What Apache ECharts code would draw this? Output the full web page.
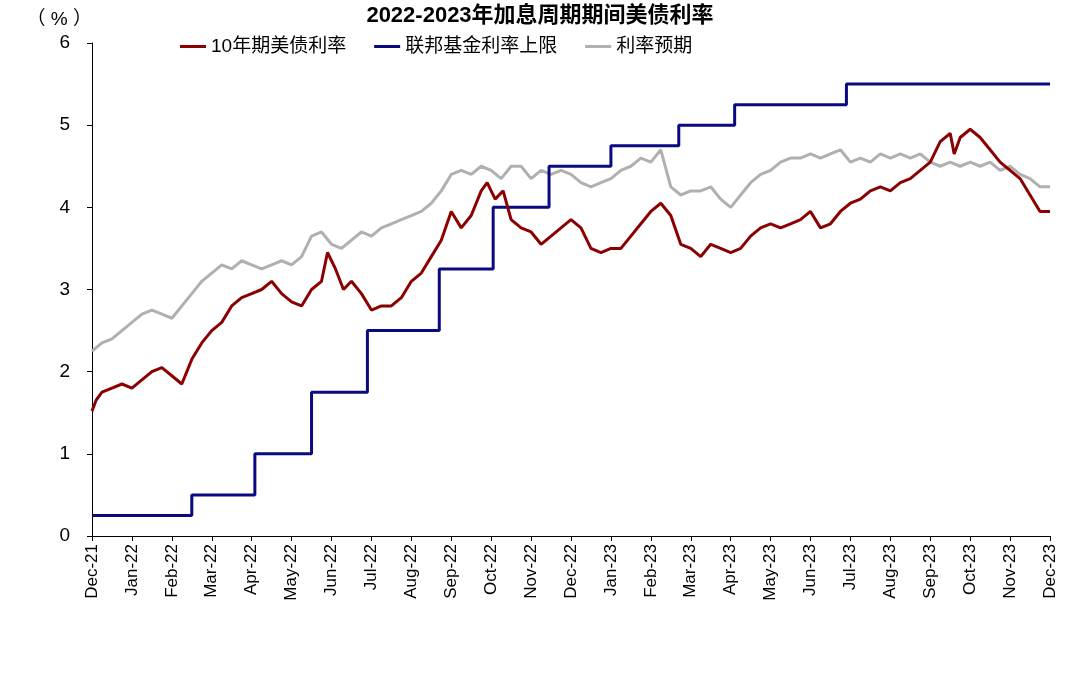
<!DOCTYPE html>
<html>
<head>
<meta charset="utf-8">
<script src="https://cdn.jsdelivr.net/npm/echarts@6/dist/echarts.min.js"></script>
</head>
<body style="margin:0">
<div id="main" style="width:1080px;height:679px;"></div>
<script>
var months = ['Dec-21','Jan-22','Feb-22','Mar-22','Apr-22','May-22','Jun-22','Jul-22','Aug-22','Sep-22','Oct-22','Nov-22','Dec-22',
  'Jan-23','Feb-23','Mar-23','Apr-23','May-23','Jun-23','Jul-23','Aug-23','Sep-23','Oct-23','Nov-23','Dec-23']

// x = months since Dec-21
var tenYear = [[0,1.52],[0.1,1.65],[0.25,1.75],[0.5,1.8],[0.75,1.85],[1,1.8],[1.25,1.9],[1.5,2.0],[1.75,2.05],[2,1.95],[2.25,1.85],
  [2.5,2.15],[2.75,2.35],[3,2.5],[3.25,2.6],[3.5,2.8],[3.75,2.9],[4,2.95],[4.25,3.0],[4.5,3.1],[4.75,2.95],[5,2.85],[5.25,2.8],
  [5.5,3.0],[5.75,3.1],[5.9,3.45],[6.1,3.25],[6.3,3.0],[6.5,3.1],[6.75,2.95],[7,2.75],[7.25,2.8],[7.5,2.8],[7.75,2.9],[8,3.1],
  [8.25,3.2],[8.5,3.4],[8.75,3.6],[9,3.95],[9.25,3.75],[9.5,3.9],[9.75,4.2],[9.9,4.3],[10.1,4.1],[10.3,4.2],[10.5,3.85],[10.75,3.75],
  [11,3.7],[11.25,3.55],[11.5,3.65],[11.75,3.75],[12,3.85],[12.25,3.75],[12.5,3.5],[12.75,3.45],[13,3.5],[13.25,3.5],[13.5,3.65],
  [13.75,3.8],[14,3.95],[14.25,4.05],[14.5,3.9],[14.75,3.55],[15,3.5],[15.25,3.4],[15.5,3.55],[15.75,3.5],[16,3.45],[16.25,3.5],
  [16.5,3.65],[16.75,3.75],[17,3.8],[17.25,3.75],[17.5,3.8],[17.75,3.85],[18,3.95],[18.25,3.75],[18.5,3.8],[18.75,3.95],[19,4.05],
  [19.25,4.1],[19.5,4.2],[19.75,4.25],[20,4.2],[20.25,4.3],[20.5,4.35],[20.75,4.45],[21,4.55],[21.25,4.8],[21.5,4.9],[21.6,4.65],
  [21.75,4.85],[22,4.95],[22.25,4.85],[22.5,4.7],[22.75,4.55],[23,4.45],[23.25,4.35],[23.5,4.15],[23.75,3.95],[24,3.95]]

var fedUpper = [[0,0.25],[2.5,0.5],[4.08,1.0],[5.5,1.75],[6.9,2.5],[8.7,3.25],[10.05,4.0],[11.45,4.5],[13.0,4.75],
  [14.7,5.0],[16.1,5.25],[18.9,5.5],[24,5.5]]

var expect = [[0,2.25],[0.25,2.35],[0.5,2.4],[0.75,2.5],[1,2.6],[1.25,2.7],[1.5,2.75],[1.75,2.7],[2,2.65],[2.25,2.8],[2.5,2.95],
  [2.75,3.1],[3,3.2],[3.25,3.3],[3.5,3.25],[3.75,3.35],[4,3.3],[4.25,3.25],[4.5,3.3],[4.75,3.35],[5,3.3],[5.25,3.4],[5.5,3.65],
  [5.75,3.7],[6,3.55],[6.25,3.5],[6.5,3.6],[6.75,3.7],[7,3.65],[7.25,3.75],[7.5,3.8],[7.75,3.85],[8,3.9],[8.25,3.95],[8.5,4.05],
  [8.75,4.2],[9,4.4],[9.25,4.45],[9.5,4.4],[9.75,4.5],[10,4.45],[10.25,4.35],[10.5,4.5],[10.75,4.5],[11,4.35],[11.25,4.45],
  [11.5,4.4],[11.75,4.45],[12,4.4],[12.25,4.3],[12.5,4.25],[12.75,4.3],[13,4.35],[13.25,4.45],[13.5,4.5],[13.75,4.6],[14,4.55],
  [14.25,4.7],[14.5,4.25],[14.75,4.15],[15,4.2],[15.25,4.2],[15.5,4.25],[15.75,4.1],[16,4.0],[16.25,4.15],[16.5,4.3],[16.75,4.4],
  [17,4.45],[17.25,4.55],[17.5,4.6],[17.75,4.6],[18,4.65],[18.25,4.6],[18.5,4.65],[18.75,4.7],[19,4.55],[19.25,4.6],[19.5,4.55],
  [19.75,4.65],[20,4.6],[20.25,4.65],[20.5,4.6],[20.75,4.65],[21,4.55],[21.25,4.5],[21.5,4.55],[21.75,4.5],[22,4.55],[22.25,4.5],
  [22.5,4.55],[22.75,4.45],[23,4.5],[23.25,4.4],[23.5,4.35],[23.75,4.25],[24,4.25]]

var myChart = echarts.init(document.querySelector('#main'))
var font = 'Liberation Sans, Noto Sans CJK SC, sans-serif'
var option = {
    animation: false,
    textStyle: {fontFamily: font, color: '#000'},
    title: {
        text: '2022-2023年加息周期期间美债利率',
        left: 'center', top: 0,
        textStyle: {fontSize: 22, fontWeight: 'bold', color: '#000', fontFamily: font}
    },
    legend: {
        top: 32, left: 175, itemGap: 28,
        icon: 'rect', itemWidth: 26, itemHeight: 3,
        textStyle: {fontSize: 19, color: '#000'},
        data: ['10年期美债利率', '联邦基金利率上限', '利率预期']
    },
    grid: {left: 92, right: 30, top: 43, bottom: 143},
    xAxis: {
        type: 'value', min: 0, max: 24, interval: 1,
        splitLine: {show: false},
        axisLine: {lineStyle: {color: '#000'}},
        axisTick: {lineStyle: {color: '#000'}},
        axisLabel: {
            rotate: 90, fontSize: 17, color: '#000', margin: 8,
            formatter: function (v) { return months[Math.round(v)] }
        }
    },
    yAxis: {
        type: 'value', min: 0, max: 6, interval: 1,
        name: '（ % ）', nameLocation: 'end', nameGap: 14,
        nameTextStyle: {fontSize: 19, align: 'right'},
        splitLine: {show: false},
        axisLine: {show: true, lineStyle: {color: '#000'}},
        axisTick: {show: true, lineStyle: {color: '#000'}},
        axisLabel: {fontSize: 19, color: '#000', margin: 22}
    },
    series: [
        {name: '10年期美债利率', type: 'line', data: tenYear, symbol: 'none', z: 3,
         lineStyle: {color: '#8b0000', width: 3}, itemStyle: {color: '#8b0000'}},
        {name: '联邦基金利率上限', type: 'line', data: fedUpper, step: 'end', symbol: 'none', z: 2,
         lineStyle: {color: '#0a0a80', width: 3}, itemStyle: {color: '#0a0a80'}},
        {name: '利率预期', type: 'line', data: expect, symbol: 'none', z: 1,
         lineStyle: {color: '#b0b0b0', width: 3}, itemStyle: {color: '#b0b0b0'}}
    ]
}
myChart.setOption(option)
</script>
</body>
</html>
